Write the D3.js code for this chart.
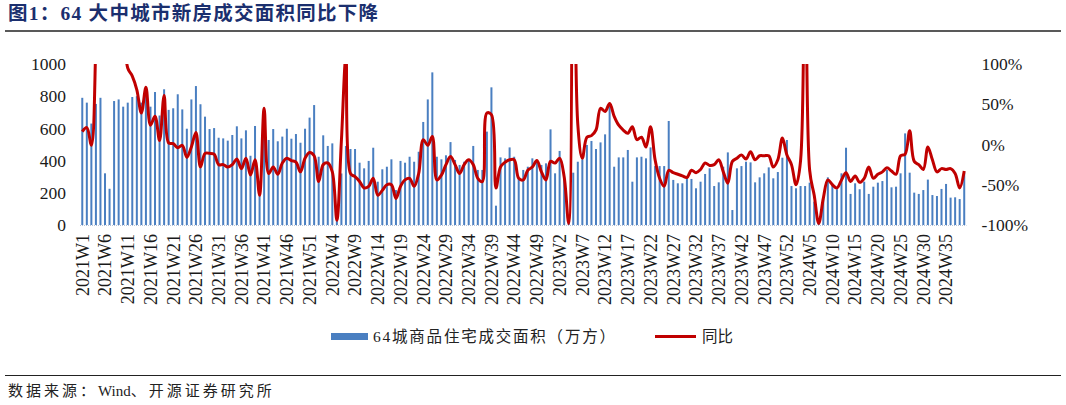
<!DOCTYPE html>
<html lang="zh">
<head>
<meta charset="UTF-8">
<title>64大中城市新房成交面积同比</title>
<script src="https://d3js.org/d3.v7.min.js"></script>
<style>
  body { margin: 0; background: #fff; }
  svg { display: block; }
  .serif { font-family: "Liberation Serif", "Noto Sans CJK SC", serif; }
</style>
</head>
<body>
<svg width="1066" height="405"></svg>
<script>
// weekly categories, 2021W1 .. 2024W39
const years = [2021, 2022, 2023, 2024];
const weeksInYear = [52, 52, 52, 39];
const weeks = [];
years.forEach((y, k) => {
  for (let w = 1; w <= weeksInYear[k]; w++) weeks.push(y + "W" + w);
});

// 64城商品住宅成交面积（万方）
const area = [
  790, 760, 630, 752, 790, 321, 225, 770, 780, 735, 760, 795, 800, 760, 810, 735, 826, 680, 843, 715,
  725, 812, 718, 598, 780, 863, 750, 673, 596, 602, 542, 538, 524, 559, 613, 538, 588, 430, 615, 260,
  580, 528, 596, 520, 549, 598, 536, 565, 511, 598, 667, 745,
  424, 557, 491, 507, 40, 320, 491, 472, 472, 387, 352, 398, 480, 269, 346, 362, 408, 217, 398, 387,
  424, 393, 455, 640, 780, 948, 424, 408, 433, 515, 404, 373, 393, 410, 491, 342, 342, 580, 855, 120,
  420, 414, 482, 424, 290, 342, 362, 414, 393, 373, 383, 594,
  321, 460, 295, 12, 325, 393, 408, 497, 522, 472, 513, 563, 745, 362, 420, 420, 466, 269, 420, 424,
  414, 482, 366, 366, 366, 646, 280, 259, 259, 290, 286, 228, 269, 317, 352, 242, 265, 362, 451, 93,
  352, 366, 393, 389, 265, 296, 321, 358, 290, 329, 418, 528,
  242, 228, 242, 242, 263, 145, 10, 165, 296, 255, 222, 321, 480, 193, 259, 222, 269, 193, 238, 263,
  273, 342, 234, 238, 321, 569, 325, 201, 193, 217, 282, 186, 180, 224, 255, 170, 172, 161, 325
];

// 同比 (%)
const yoy = [
  16, 21, -1, 130, 400, 700, 900, 500, 300, 170, 95, 85, 68, 39, 71, 24, 35, 5, 61, 2,
  1, -4, -1, -16, -3, 15, -28, -11, -11, -12, -25, -25, -28, -25, -18, -30, -17, -38, -19, -63,
  45, -36, -28, -37, -23, -17, -20, -22, -34, -17, -10, -14,
  -46, -25, -23, -34, -94, 5, 110, -36, -40, -46, -54, -52, -42, -63, -57, -50, -50, -67, -52, -44,
  -42, -52, -36, 6, -1, 10, -44, -38, -25, -15, -25, -36, -25, -19, -25, -42, -46, 39, 37, -54,
  -28, -22, -19, -19, -42, -44, -32, -28, -20, -34, -44, -21,
  -23, -17, -40, -98, 700, 25, -17, 9, 11, 18, 45, 41, 51, 35, 24, 18, 14, 22, 6, 9,
  -3, 22, -19, -42, -52, -32, -35, -37, -39, -41, -32, -35, -31, -23, -26, -25, -19, -34, -48, -21,
  -17, -13, -18, -9, -19, -14, -14, -14, -28, -19, 8, -13,
  -25, -50, -20, 600, -32, -63, -98, -67, -44, -50, -54, -44, -35, -46, -39, -47, -42, -28, -42, -37,
  -34, -29, -33, -37, -14, -12, 17, -21, -25, -31, -3, -19, -34, -30, -31, -30, -36, -54, -33
];

const leftTicks = [0, 200, 400, 600, 800, 1000];
const rightTicks = [-100, -50, 0, 50, 100];
const xTicks = weeks.filter((d, i) => i % 5 === 0);

const barName = "64城商品住宅成交面积（万方）";
const lineName = "同比";
const title = "图1：64 大中城市新房成交面积同比下降";
const sourceParts = ["数据来源：", "Wind", "、开源证券研究所"];

const barColor = "#4a7fc1";
const lineColor = "#c00000";

const plot = { left: 80, right: 966.5, top: 64, bottom: 225 };

const svg = d3.select("svg");

const x = d3.scaleBand().domain(weeks).range([plot.left, plot.right]).padding(0);
const yL = d3.scaleLinear().domain([0, 1000]).range([plot.bottom, plot.top]);
const yR = d3.scaleLinear().domain([-100, 100]).range([plot.bottom, plot.top]);
const cx = d => x(d) + x.bandwidth() / 2;

// title and rules
svg.append("text")
  .attr("class", "serif")
  .attr("x", 8).attr("y", 20)
  .attr("textLength", 370).attr("lengthAdjust", "spacing")
  .style("font-size", "19.5px").style("font-weight", "bold")
  .attr("fill", "#1b2f6e")
  .text(title);

svg.append("line").attr("x1", 5).attr("x2", 1061).attr("y1", 31).attr("y2", 31)
  .attr("stroke", "#222").attr("stroke-width", 1.5);
svg.append("line").attr("x1", 5).attr("x2", 1061).attr("y1", 375.5).attr("y2", 375.5)
  .attr("stroke", "#222").attr("stroke-width", 1.2);

// source line: only the CJK parts are spaced out
const src = svg.append("text")
  .attr("class", "serif")
  .attr("x", 8).attr("y", 396)
  .style("font-size", "15px")
  .attr("fill", "#222");
sourceParts.forEach((t, i) => {
  src.append("tspan")
    .style("letter-spacing", i === 1 ? "0px" : "3px")
    .text(t);
});

// category axis line (dotted)
svg.append("line")
  .attr("x1", plot.left).attr("x2", plot.right)
  .attr("y1", plot.bottom + 0.5).attr("y2", plot.bottom + 0.5)
  .attr("stroke", "#b8c4d8").attr("stroke-dasharray", "1,1");

// bars
svg.append("g").selectAll("rect")
  .data(area)
  .join("rect")
  .attr("x", (d, i) => cx(weeks[i]) - 1)
  .attr("width", 2)
  .attr("y", d => yL(d))
  .attr("height", d => yL(0) - yL(d))
  .attr("fill", barColor);

// yoy line, clipped to plot area
svg.append("clipPath").attr("id", "clip")
  .append("rect")
  .attr("x", plot.left - 5).attr("y", plot.top)
  .attr("width", plot.right - plot.left + 10).attr("height", plot.bottom - plot.top + 2);

const line = d3.line()
  .x((d, i) => cx(weeks[i]))
  .y(d => yR(d))
  .curve(d3.curveCatmullRom.alpha(0.5));

svg.append("path")
  .datum(yoy)
  .attr("clip-path", "url(#clip)")
  .attr("fill", "none")
  .attr("stroke", lineColor)
  .attr("stroke-width", 3)
  .attr("stroke-linejoin", "round")
  .attr("d", line);

// axes
const axL = svg.append("g")
  .attr("transform", `translate(${plot.left - 10},0)`)
  .call(d3.axisLeft(yL).tickValues(leftTicks).tickSize(0).tickPadding(4).tickFormat(d3.format("d")));
const axR = svg.append("g")
  .attr("transform", `translate(${plot.right + 11},0)`)
  .call(d3.axisRight(yR).tickValues(rightTicks).tickSize(0).tickPadding(4).tickFormat(d => d + "%"));
const axB = svg.append("g")
  .attr("transform", `translate(0,${plot.bottom})`)
  .call(d3.axisBottom(x).tickValues(xTicks).tickSize(0));

[axL, axR, axB].forEach(g => {
  g.select(".domain").remove();
  g.selectAll("text")
    .attr("class", "serif")
    .style("font-size", "17.5px")
    .attr("fill", "#1a1a1a");
});

axB.selectAll("text")
  .style("font-size", "18px")
  .attr("transform", "rotate(-90)")
  .attr("x", -9).attr("y", 0)
  .attr("dy", "0.35em")
  .style("text-anchor", "end");

// legend
const lg = svg.append("g");
lg.append("rect").attr("x", 331).attr("y", 333).attr("width", 37).attr("height", 7).attr("fill", barColor);
lg.append("text").attr("class", "serif")
  .attr("x", 373).attr("y", 342)
  .attr("textLength", 242).attr("lengthAdjust", "spacing")
  .style("font-size", "15.5px").attr("fill", "#222")
  .text(barName);
lg.append("line").attr("x1", 655).attr("x2", 696).attr("y1", 336.5).attr("y2", 336.5)
  .attr("stroke", lineColor).attr("stroke-width", 3);
lg.append("text").attr("class", "serif")
  .attr("x", 702).attr("y", 342)
  .attr("textLength", 31).attr("lengthAdjust", "spacing")
  .style("font-size", "15.5px").attr("fill", "#222")
  .text(lineName);
</script>
</body>
</html>
